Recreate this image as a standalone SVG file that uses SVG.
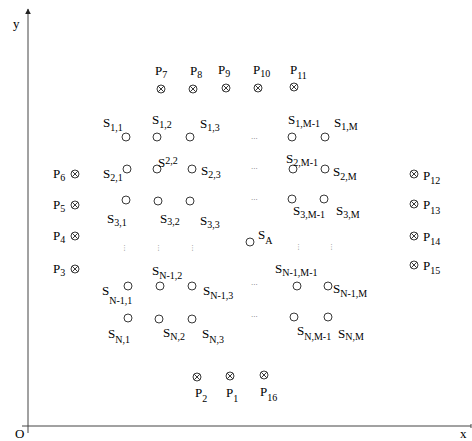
<svg xmlns="http://www.w3.org/2000/svg" xmlns:xlink="http://www.w3.org/1999/xlink" width="472" height="441" viewBox="0 0 472 441">
<style>
text{font-family:"Liberation Serif","Times New Roman",serif;font-size:13px;fill:#000}
.sub{font-size:10px}
.dots{font-family:"DejaVu Sans",sans-serif;font-size:7px;fill:#777}
.ax{stroke:#444;stroke-width:1;fill:none}
.mk{stroke:#222;stroke-width:0.9;fill:#fff}
</style>
<defs>
<g id="pm"><circle r="4" class="mk"/><path d="M-2.8,-2.8L2.8,2.8M-2.8,2.8L2.8,-2.8" stroke="#222" stroke-width="0.9"/></g>
<circle id="sc" r="4" class="mk"/>
<marker id="arr" viewBox="0 0 10 10" refX="9" refY="5" markerWidth="6" markerHeight="8" orient="auto" markerUnits="userSpaceOnUse"><path d="M0,0L10,5L0,10z" fill="#222"/></marker>
</defs>
<rect width="472" height="441" fill="#fff"/>
<g id="connectors">
<line class="ax" x1="28" y1="433" x2="28" y2="9" marker-end="url(#arr)"/>
<line class="ax" x1="22" y1="426" x2="471" y2="426"/>
<line class="ax" x1="471" y1="424" x2="471" y2="428"/>
</g>
<g id="axis-labels">
<text x="13" y="28" font-size="12">y</text>
<text x="15" y="438" font-size="12">O</text>
<text x="460" y="438" font-size="12">x</text>
</g>
<!-- P markers -->
<g id="P7"><use xlink:href="#pm" x="161" y="89"/><text x="155" y="75">P<tspan class="sub" y="78">7</tspan></text></g>
<g id="P8"><use xlink:href="#pm" x="193" y="89"/><text x="190" y="75">P<tspan class="sub" y="78">8</tspan></text></g>
<g id="P9"><use xlink:href="#pm" x="226" y="88"/><text x="218" y="74">P<tspan class="sub" y="77">9</tspan></text></g>
<g id="P10"><use xlink:href="#pm" x="258" y="88"/><text x="253" y="74">P<tspan class="sub" y="77">10</tspan></text></g>
<g id="P11"><use xlink:href="#pm" x="294" y="87"/><text x="290" y="74">P<tspan class="sub" y="79">11</tspan></text></g>
<g id="P6"><use xlink:href="#pm" x="75" y="174"/><text x="53" y="178">P<tspan class="sub" y="181">6</tspan></text></g>
<g id="P5"><use xlink:href="#pm" x="75" y="205"/><text x="53" y="209">P<tspan class="sub" y="212">5</tspan></text></g>
<g id="P4"><use xlink:href="#pm" x="75" y="236"/><text x="53" y="240">P<tspan class="sub" y="243">4</tspan></text></g>
<g id="P3"><use xlink:href="#pm" x="75" y="269"/><text x="53" y="273">P<tspan class="sub" y="276">3</tspan></text></g>
<g id="P12"><use xlink:href="#pm" x="414" y="174"/><text x="423" y="180">P<tspan class="sub" y="184">12</tspan></text></g>
<g id="P13"><use xlink:href="#pm" x="414" y="204"/><text x="423" y="209">P<tspan class="sub" y="214">13</tspan></text></g>
<g id="P14"><use xlink:href="#pm" x="414" y="236"/><text x="423" y="241">P<tspan class="sub" y="245">14</tspan></text></g>
<g id="P15"><use xlink:href="#pm" x="414" y="265"/><text x="423" y="270">P<tspan class="sub" y="274">15</tspan></text></g>
<g id="P2"><use xlink:href="#pm" x="197" y="377"/><text x="195" y="397">P<tspan class="sub" y="402">2</tspan></text></g>
<g id="P1"><use xlink:href="#pm" x="230" y="376"/><text x="226" y="397">P<tspan class="sub" y="402">1</tspan></text></g>
<g id="P16"><use xlink:href="#pm" x="264" y="375"/><text x="260" y="396">P<tspan class="sub" y="401">16</tspan></text></g>
<!-- S nodes row 1 -->
<g id="S11"><use xlink:href="#sc" x="126" y="137"/><text x="103" y="127">S<tspan class="sub" y="131">1,1</tspan></text></g>
<g id="S12"><use xlink:href="#sc" x="157" y="137"/><text x="152" y="124">S<tspan class="sub" y="128">1,2</tspan></text></g>
<g id="S13"><use xlink:href="#sc" x="190" y="137"/><text x="200" y="128">S<tspan class="sub" y="131">1,3</tspan></text></g>
<g id="S1M1"><use xlink:href="#sc" x="292" y="137"/><text x="288" y="124">S<tspan class="sub" y="127">1,M-1</tspan></text></g>
<g id="S1M"><use xlink:href="#sc" x="325" y="137"/><text x="334" y="127">S<tspan class="sub" y="130">1,M</tspan></text></g>
<!-- row 2 -->
<g id="S21"><use xlink:href="#sc" x="127" y="169"/><text x="103" y="178">S<tspan class="sub" y="181">2,1</tspan></text></g>
<g id="S22"><use xlink:href="#sc" x="157" y="169"/><text x="158" y="167">S<tspan class="sub" y="164">2,2</tspan></text></g>
<g id="S23"><use xlink:href="#sc" x="192" y="169"/><text x="201" y="175">S<tspan class="sub" y="178">2,3</tspan></text></g>
<g id="S2M1"><use xlink:href="#sc" x="293" y="169"/><text x="286" y="163">S<tspan class="sub" y="166">2,M-1</tspan></text></g>
<g id="S2M"><use xlink:href="#sc" x="325" y="169"/><text x="333" y="176">S<tspan class="sub" y="180">2,M</tspan></text></g>
<!-- row 3 -->
<g id="S31"><use xlink:href="#sc" x="126" y="200"/><text x="107" y="223">S<tspan class="sub" y="226">3,1</tspan></text></g>
<g id="S32"><use xlink:href="#sc" x="158" y="201"/><text x="160" y="223">S<tspan class="sub" y="225">3,2</tspan></text></g>
<g id="S33"><use xlink:href="#sc" x="190" y="201"/><text x="200" y="225">S<tspan class="sub" y="228">3,3</tspan></text></g>
<g id="S3M1"><use xlink:href="#sc" x="292" y="199"/><text x="293" y="215">S<tspan class="sub" y="218">3,M-1</tspan></text></g>
<g id="S3M"><use xlink:href="#sc" x="324" y="199"/><text x="336" y="215">S<tspan class="sub" y="218">3,M</tspan></text></g>
<!-- SA -->
<g id="SA"><use xlink:href="#sc" x="250" y="242"/><text x="258" y="239">S<tspan class="sub" y="244">A</tspan></text></g>
<!-- row N-1 -->
<g id="SN11"><use xlink:href="#sc" x="128" y="286"/><text x="102" y="295">S<tspan class="sub" y="304">N-1,1</tspan></text></g>
<g id="SN12"><use xlink:href="#sc" x="160" y="286"/><text x="152" y="275">S<tspan class="sub" y="279">N-1,2</tspan></text></g>
<g id="SN13"><use xlink:href="#sc" x="192" y="286"/><text x="203" y="295">S<tspan class="sub" y="299">N-1,3</tspan></text></g>
<g id="SN1M1"><use xlink:href="#sc" x="297" y="286"/><text x="275" y="273">S<tspan class="sub" y="276">N-1,M-1</tspan></text></g>
<g id="SN1M"><use xlink:href="#sc" x="328" y="286"/><text x="333" y="293">S<tspan class="sub" y="297">N-1,M</tspan></text></g>
<!-- row N -->
<g id="SN1"><use xlink:href="#sc" x="128" y="318"/><text x="108" y="338">S<tspan class="sub" y="343">N,1</tspan></text></g>
<g id="SN2"><use xlink:href="#sc" x="159" y="319"/><text x="163" y="337">S<tspan class="sub" y="340">N,2</tspan></text></g>
<g id="SN3"><use xlink:href="#sc" x="192" y="319"/><text x="202" y="338">S<tspan class="sub" y="343">N,3</tspan></text></g>
<g id="SNM1"><use xlink:href="#sc" x="294" y="317"/><text x="297" y="335">S<tspan class="sub" y="340">N,M-1</tspan></text></g>
<g id="SNM"><use xlink:href="#sc" x="328" y="317"/><text x="338" y="338">S<tspan class="sub" y="340">N,M</tspan></text></g>
<!-- ellipses -->
<g id="ellipses">
<text class="dots" x="251" y="139">...</text>
<text class="dots" x="251" y="169">...</text>
<text class="dots" x="251" y="200">...</text>
<text class="dots" x="251" y="285">...</text>
<text class="dots" x="251" y="317">...</text>
<text class="dots" x="121" y="250">⋮</text>
<text class="dots" x="155" y="250">⋮</text>
<text class="dots" x="189" y="250">⋮</text>
<text class="dots" x="295" y="249">⋮</text>
<text class="dots" x="328" y="249">⋮</text>
</g>
</svg>
